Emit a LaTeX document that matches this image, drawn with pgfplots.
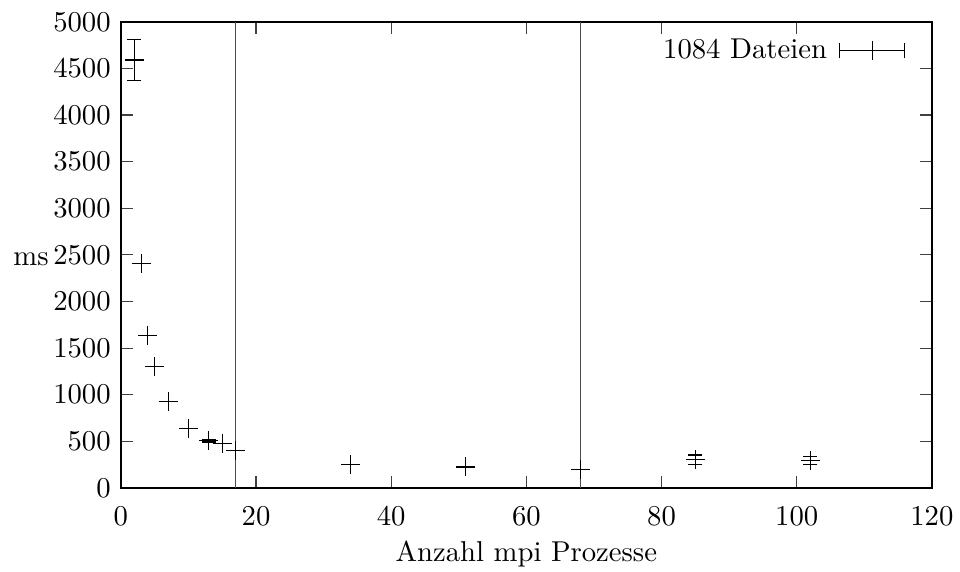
\documentclass[border=0pt]{standalone}
\usepackage{pgfplots}
\pgfplotsset{compat=1.18}
\usepackage{pgfplotstable}
\pgfplotstableread{
x y ey
2 4590 220
13 508 15
85 303 50
102 292 45
}\errtable
\pgfplotstableread{
x y
3 2405
4 1637
5 1301
7 926
10 640
15 480
17 397
34 251
51 225
68 200
}\plaintable
\begin{document}
\begin{tikzpicture}[x=1pt,y=1pt]
\path[use as bounding box] (0,0) rectangle (334.5,199.3);
\begin{axis}[
  at={(42.1pt,29.3pt)}, anchor=south west,
  scale only axis,
  width=282.6pt, height=162.4pt,
  xmin=0, xmax=120, ymin=0, ymax=5000,
  xtick={0,20,...,120}, ytick={0,500,...,5000},
  tick align=inside, major tick length=4.2pt,
  xtick pos=both, ytick pos=both,
  tick style={black!75, line width=0.4pt},
  /pgf/number format/1000 sep={},
  axis line style={line width=0.5pt},
  xticklabel style={yshift=-3pt},
  xlabel={Anzahl mpi Prozesse},
  xlabel style={yshift=1.5pt},
  ylabel={ms},
  every axis y label/.style={at={(axis description cs:0,0.49)}, anchor=east, xshift=-21.6pt},
  legend cell align=right,
  legend style={draw=none, fill=none, anchor=east, at={(axis description cs:0.968,0.938)}, inner sep=0pt, legend plot pos=right,
    /tikz/column 1/.style={column sep=2.3pt}},
]
\addplot[black!70, line width=0.45pt, forget plot] coordinates {(17,0) (17,5000)};
\addplot[black!70, line width=0.45pt, forget plot] coordinates {(68,0) (68,5000)};
\addplot[only marks, black, mark=+, mark size=3.3pt, forget plot] table[x=x, y=y] {\plaintable};
\addplot[only marks, black, mark=+, mark size=3.3pt,
  error bars/.cd, y dir=both, y explicit,
  error mark options={rotate=90, mark size=2.45pt, black}]
  table[x=x, y=y, y error=ey] {\errtable};
\addlegendimage{legend image code/.code={
  \draw[black, line width=0.4pt] (0pt,0pt) -- (22.6pt,0pt);
  \draw[black, line width=0.4pt] (0pt,-2.6pt) -- (0pt,2.6pt);
  \draw[black, line width=0.4pt] (22.6pt,-2.6pt) -- (22.6pt,2.6pt);
  \draw[black, line width=0.4pt] (11.3pt,-3.3pt) -- (11.3pt,3.3pt);
}}
\legend{,1084 Dateien}
\end{axis}
\end{tikzpicture}
\end{document}
